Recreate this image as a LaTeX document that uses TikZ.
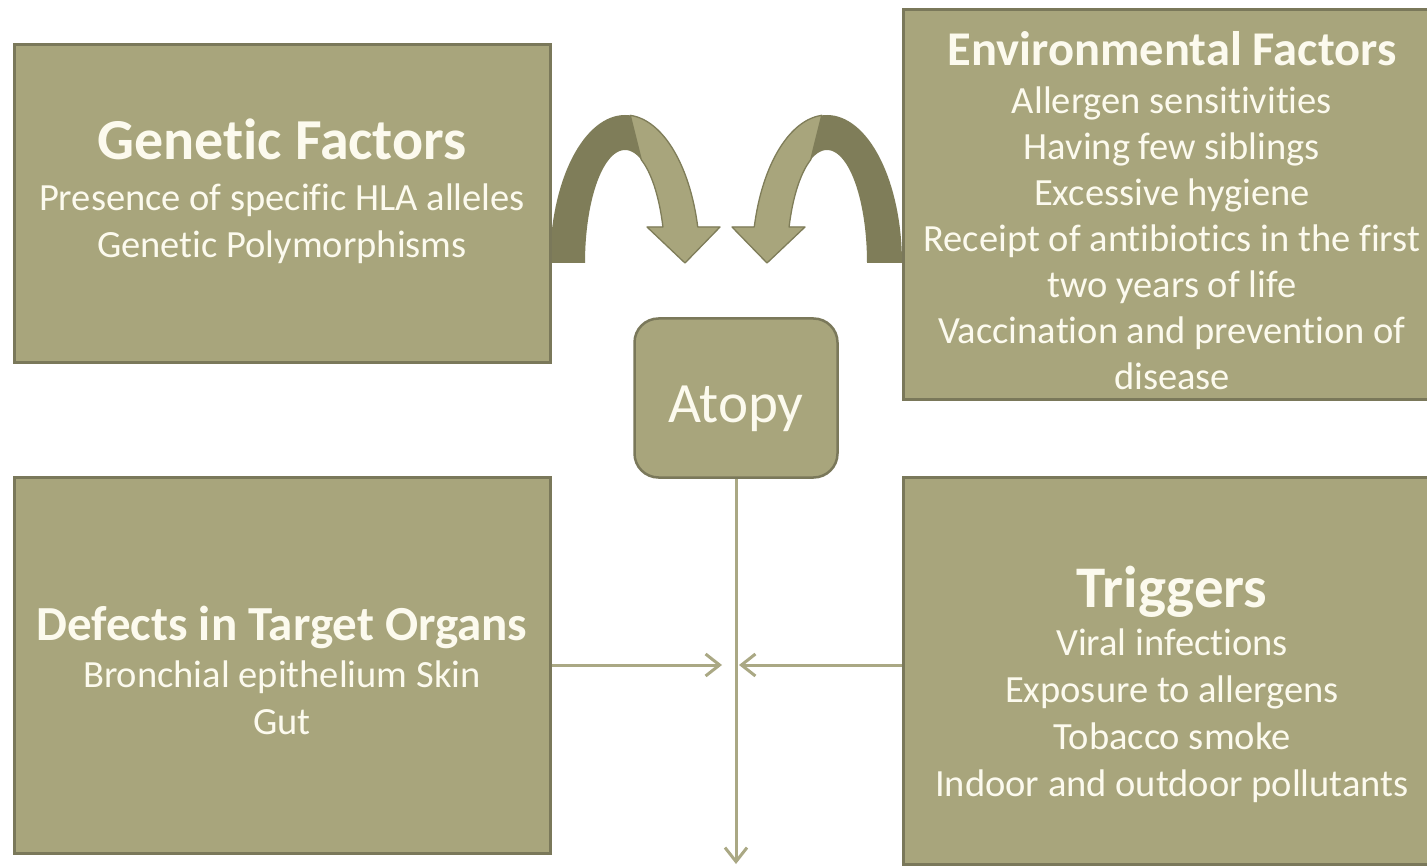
\documentclass[tikz,border=0pt]{standalone}
\usepackage{fontspec}
\setmainfont{Carlito}[Ligatures=NoCommon]
\usetikzlibrary{arrows.meta}

\definecolor{boxfill}{RGB}{168,165,124}
\definecolor{boxedge}{RGB}{122,120,90}
\definecolor{ribbondark}{RGB}{127,125,89}
\definecolor{paper}{RGB}{252,250,238}
\definecolor{linkcol}{RGB}{170,168,132}

\newcommand{\headfont}[1]{\fontsize{#1}{47}\selectfont\bfseries}

% one curved ribbon arrow (back face dark, front face light)
\newcommand{\ribbonarrow}{%
  \fill[ribbondark]
    plot[domain=180:345.9,samples=60] ({625+75*cos(\x)},{263+148*sin(\x)})
    -- (720,227) -- (685,263) -- (647,227)
    -- plot[domain=341.4:180,samples=60] ({625+40*cos(\x)},{263+113*sin(\x)})
    -- cycle;
  \filldraw[fill=boxfill, draw=ribbondark, line width=1.3pt, line join=round]
    plot[domain=274:345.9,samples=40] ({625+75*cos(\x)},{263+148*sin(\x)})
    -- (720,227) -- (685,263) -- (647,227)
    -- plot[domain=341.4:294,samples=40] ({625+40*cos(\x)},{263+113*sin(\x)})
    -- cycle;
}

\begin{document}
\begin{tikzpicture}[x=1pt,y=-1pt,
  panel/.style={draw=boxedge, fill=boxfill, line width=3pt, inner sep=0pt},
  txt/.style={text=paper, align=center, inner sep=0pt,
              font=\fontsize{38.5}{47}\selectfont},
  link/.style={draw=linkcol, line width=3pt,
               -{Straight Barb[length=14pt,width=22pt]}}]
\useasboundingbox (0,0) rectangle (1427,866);
\clip (0,0) rectangle (1427,866);
\fill[white] (0,0) rectangle (1427,866);

% curved arrows feeding into Atopy
\ribbonarrow
\begin{scope}[xshift=1452pt, xscale=-1]
  \ribbonarrow
\end{scope}

% panels
\node[panel, minimum width=536pt, minimum height=318pt] (genetic) at (282,204) {};
\node[panel, minimum width=537pt, minimum height=390pt] (environ) at (1172,205) {};
\node[panel, minimum width=536pt, minimum height=376pt] (defects) at (282,665) {};
\node[panel, minimum width=537pt, minimum height=387pt] (triggers) at (1172,670.5) {};
\node[panel, line width=2.5pt, rounded corners=24pt, minimum width=203pt,
      minimum height=159pt, text=paper, font=\fontsize{57}{60}\selectfont,
      text height=50pt, text depth=0pt] (atopy) at (736,398) {Atopy};

% panel texts
\node[txt] (genetic-t) at (282,191)
  {{\headfont{58}Genetic Factors}\\[4pt]
   Presence of specific HLA alleles\\
   Genetic Polymorphisms};
\node[txt, font=\fontsize{38.5}{46}\selectfont] (environ-t) at (1172,211)
  {{\headfont{48.5}Environmental Factors}\\[2pt]
   Allergen sensitivities\\
   Having few siblings\\
   Excessive hygiene\\
   Receipt of antibiotics in the first\\
   two years of life\\
   Vaccination and prevention of\\
   disease};
\node[txt] (defects-t) at (282,670)
  {{\headfont{49}Defects in Target Organs}\\
   Bronchial epithelium Skin\\
   Gut};
\node[txt] (triggers-t) at (1172,684)
  {{\headfont{59}Triggers}\\[1pt]
   Viral infections\\
   Exposure to allergens\\
   Tobacco smoke\\
   Indoor and outdoor pollutants};

% straight connectors
\coordinate (joinL) at (722,665);
\coordinate (joinR) at (739,665);
\coordinate (sink) at (736,864);
\draw[link] (defects.east) -- (joinL);
\draw[link] (triggers.west |- joinR) -- (joinR);
\draw[link] (atopy.south) -- (sink);
\end{tikzpicture}
\end{document}
